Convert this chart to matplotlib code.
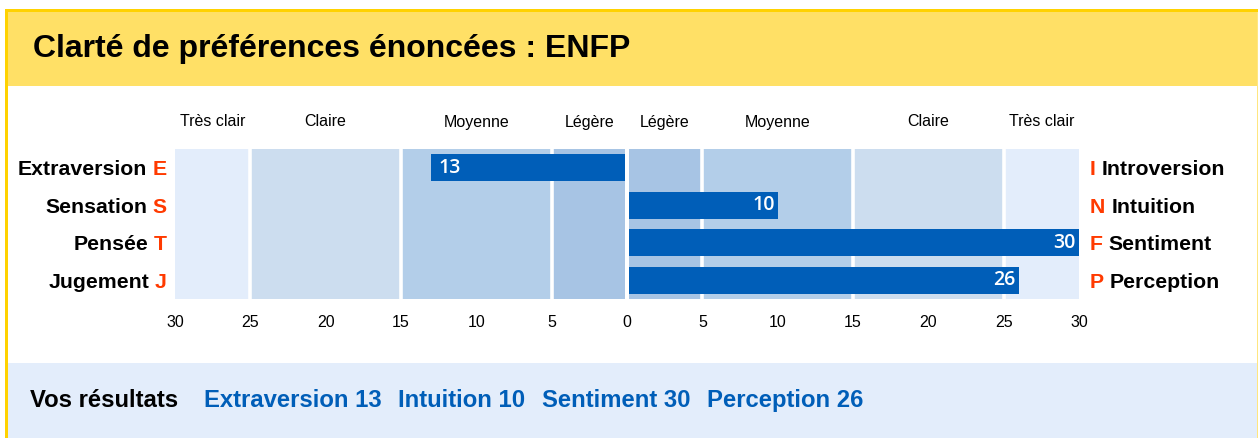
import matplotlib
matplotlib.use("Agg")
import matplotlib.pyplot as plt
from matplotlib.patches import Rectangle

# ---------------- data ----------------
title = "Clarté de préférences énoncées : ENFP"
left_names = ["Extraversion", "Sensation", "Pensée", "Jugement"]
left_letters = ["E", "S", "T", "J"]
right_names = ["Introversion", "Intuition", "Sentiment", "Perception"]
right_letters = ["I", "N", "F", "P"]
scores = [-13, 10, 30, 26]          # negative = left-hand preference
band_edges = [-30, -25, -15, -5, 0, 5, 15, 25, 30]
band_labels = ["Très clair", "Claire", "Moyenne", "Légère",
               "Légère", "Moyenne", "Claire", "Très clair"]
band_colors = ["#E3EDFB", "#CCDDEF", "#B3CEE9", "#A7C4E4",
               "#A7C4E4", "#B3CEE9", "#CCDDEF", "#E3EDFB"]
tick_values = [-30, -25, -20, -15, -10, -5, 0, 5, 10, 15, 20, 25, 30]
tick_labels = ["30", "25", "20", "15", "10", "5", "0", "5", "10", "15", "20", "25", "30"]
results_header = "Vos résultats"
results = ["Extraversion 13", "Intuition 10", "Sentiment 30", "Perception 26"]

# ---------------- style ----------------
W, H = 1258, 438
DPI = 100
PX = 72 / DPI                        # points per pixel
BAR_BLUE = "#005EB8"
RED = "#FF3A00"
GOLD = "#FFD200"
TITLE_BG = "#FFE066"
FOOT_BG = "#E3EDFB"
SANS = ["Liberation Sans", "DejaVu Sans"]
plt.rcParams["font.family"] = SANS

fig = plt.figure(figsize=(W / DPI, H / DPI), dpi=DPI)
fig.patch.set_facecolor("white")

# background axes in pixel coordinates (layout only)
bg = fig.add_axes([0, 0, 1, 1])
bg.set_xlim(0, W)
bg.set_ylim(H, 0)
bg.axis("off")
bg.add_patch(Rectangle((8, 12), 1249, 74, facecolor=TITLE_BG, edgecolor="none"))
bg.add_patch(Rectangle((8, 362.5), 1249, H - 362.5, facecolor=FOOT_BG, edgecolor="none"))
bg.add_patch(Rectangle((5, 9), 1253, 3, facecolor=GOLD, edgecolor="none"))
bg.add_patch(Rectangle((5, 9), 3, H - 9, facecolor=GOLD, edgecolor="none"))
bg.add_patch(Rectangle((1256.5, 12), 1.5, H - 12, facecolor="#FFE680", edgecolor="none"))

bg.text(33, 57, title, fontsize=23, fontweight="bold", color="black",
        ha="left", va="baseline")

# footer results
FOOT = 17.2
hdr = bg.text(30, 406.7, results_header, fontsize=FOOT, fontweight="bold",
              color="black", ha="left", va="baseline")
prev = hdr
gap_pt = 26 * PX
for r in results:
    prev = bg.annotate(r, xy=(1, 0), xycoords=prev, xytext=(gap_pt, 0),
                       textcoords="offset points", ha="left", va="bottom",
                       fontsize=FOOT, fontweight="bold", color=BAR_BLUE)
    gap_pt = 16.5 * PX

# ---------------- chart axes ----------------
x0, x1 = 175, 1079
y_top, y_bot = 149, 299
ax = fig.add_axes([x0 / W, (H - y_bot) / H, (x1 - x0) / W, (y_bot - y_top) / H])
ax.set_xlim(band_edges[0], band_edges[-1])
ax.set_ylim(len(scores) - 0.5, -0.5)
for s in ax.spines.values():
    s.set_visible(False)
ax.set_facecolor("none")

rows = list(range(len(scores)))
# clarity bands with their names above
for i in range(len(band_labels)):
    lo, hi = band_edges[i], band_edges[i + 1]
    ax.barh((len(scores) - 1) / 2, hi - lo, left=lo, height=len(scores),
            color=band_colors[i], edgecolor="none", zorder=1)
    ax.annotate(band_labels[i], xy=((lo + hi) / 2, -0.5), xycoords="data",
                xytext=(0, (149 - 126.5) * PX), textcoords="offset points",
                ha="center", va="baseline", fontsize=11.5, color="black")

# white separators between bands
for e in band_edges[1:-1]:
    ax.axvline(e, color="white", lw=3.6 * PX, zorder=2)

# score bars
ax.barh(rows, scores, height=0.71, color=BAR_BLUE, edgecolor="none", zorder=3)
ax.axvline(0, color="white", lw=4 * PX, zorder=4)

for r, v in zip(rows, scores):
    if v < 0:
        ax.annotate(str(abs(v)), xy=(v, r), xytext=(7 * PX, 0),
                    textcoords="offset points", ha="left", va="center",
                    color="white", fontsize=14, fontweight="semibold",
                    family=["Open Sans", "DejaVu Sans"], zorder=5)
    else:
        ax.annotate(str(abs(v)), xy=(v, r), xytext=(-3 * PX, 0),
                    textcoords="offset points", ha="right", va="center",
                    color="white", fontsize=14, fontweight="semibold",
                    family=["Open Sans", "DejaVu Sans"], zorder=5)

# side labels
LBL = 15.3
cap_off = -LBL * 0.716 / 2
space_pt = 0.278 * LBL
for r in rows:
    red_l = ax.annotate(left_letters[r], xy=(band_edges[0], r),
                        xytext=(-8 * PX, cap_off), textcoords="offset points",
                        ha="right", va="baseline", fontsize=LBL,
                        fontweight="bold", color=RED)
    ax.annotate(left_names[r], xy=(0, 0), xycoords=red_l,
                xytext=(-space_pt, 0), textcoords="offset points",
                ha="right", va="bottom", fontsize=LBL, fontweight="bold",
                color="black")
    red_r = ax.annotate(right_letters[r], xy=(band_edges[-1], r),
                        xytext=(11 * PX, cap_off), textcoords="offset points",
                        ha="left", va="baseline", fontsize=LBL,
                        fontweight="bold", color=RED)
    ax.annotate(right_names[r], xy=(1, 0), xycoords=red_r,
                xytext=(space_pt, 0), textcoords="offset points",
                ha="left", va="bottom", fontsize=LBL, fontweight="bold",
                color="black")

# bottom scale
ax.set_xticks(tick_values)
ax.set_xticklabels(tick_labels, fontsize=11.5)
ax.tick_params(axis="x", length=0, pad=(327 - 299 - 11.5 * 0.716 / PX) * PX - 0.5)
ax.set_yticks([])

fig.savefig("out.png", dpi=DPI, facecolor="white")
